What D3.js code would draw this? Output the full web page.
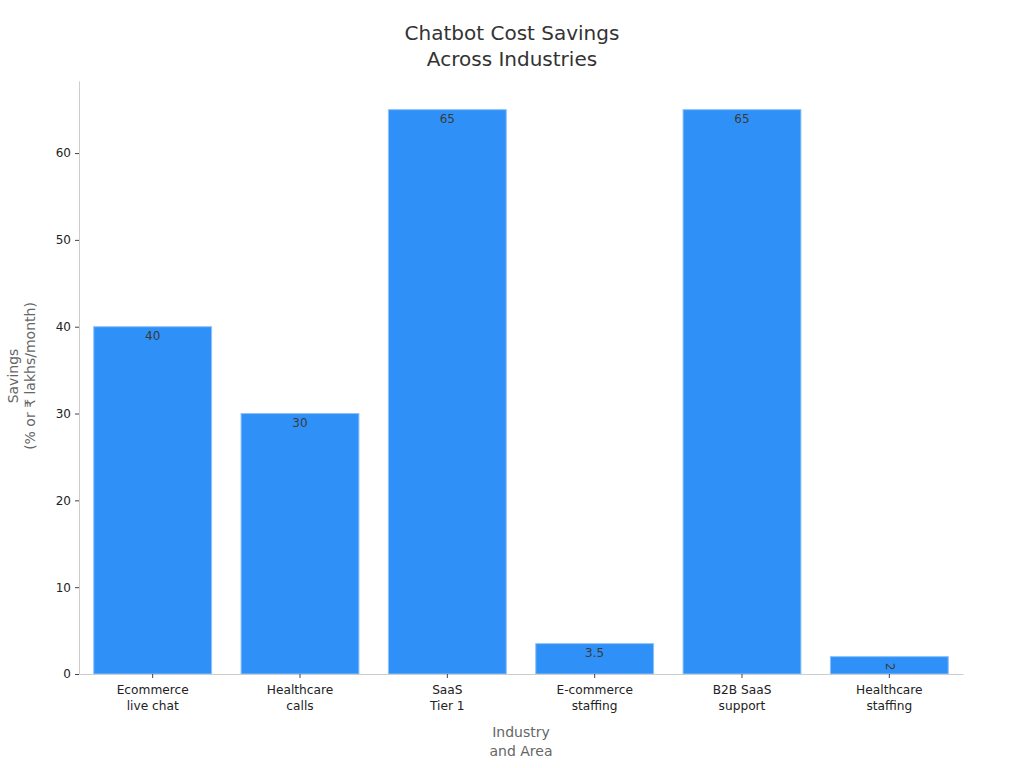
<!DOCTYPE html>
<html><head><meta charset="utf-8">
<script src="https://cdn.jsdelivr.net/npm/d3@7"></script>
<style>body{margin:0;background:#fff}text{font-family:"DejaVu Sans",sans-serif}</style>
</head><body><svg id="c" width="1024" height="768"></svg>
<script>
const categories = [["Ecommerce","live chat"],["Healthcare","calls"],["SaaS","Tier 1"],["E-commerce","staffing"],["B2B SaaS","support"],["Healthcare","staffing"]];
const values = [40, 30, 65, 3.5, 65, 2];
const labels = ["40","30","65","3.5","65","2"];
const yTicks = [0,10,20,30,40,50,60];

const svg = d3.select("#c");
const L = 79, R = 963, T = 81, B = 674;
const keys = categories.map(c => c.join(" "));
const x = d3.scaleBand().domain(keys).range([L, R]).paddingInner(0.2).paddingOuter(0.1);
const y = d3.scaleLinear().domain([0, 68.3]).range([B, T]);

svg.append("text").attr("x", 512).attr("y", 40).attr("text-anchor","middle").attr("font-size",20).attr("fill","#333").text("Chatbot Cost Savings");
svg.append("text").attr("x", 512).attr("y", 66).attr("text-anchor","middle").attr("font-size",20).attr("fill","#333").text("Across Industries");

svg.selectAll("rect.bar").data(values).enter().append("rect").attr("class","bar")
  .attr("x",(d,i)=>x(keys[i])).attr("width",x.bandwidth())
  .attr("y",d=>y(d)).attr("height",d=>B-y(d))
  .attr("fill","#2F91F7").attr("stroke","#8CC2FA").attr("stroke-width",1);

svg.selectAll("text.lbl").data(values).enter().append("text").attr("class","lbl")
  .attr("transform",(d,i)=>{const cx=x(keys[i])+x.bandwidth()/2, cy=y(d)+10; return i===5?`translate(${cx},${cy}) rotate(90)`:`translate(${cx},${cy})`;})
  .attr("text-anchor","middle").attr("dominant-baseline","middle")
  .attr("font-size",12).attr("fill","#3a3a3a").text((d,i)=>labels[i]);

const ya = svg.append("g").attr("transform",`translate(${L},0)`).call(d3.axisLeft(y).tickValues(yTicks).tickSize(4).tickPadding(4).tickSizeOuter(0));
ya.select(".domain").attr("stroke","#ccc");
ya.selectAll(".tick line").attr("stroke","#444");
ya.selectAll(".tick text").attr("font-size",12).attr("fill","#222").style("font-family","DejaVu Sans");

const xa = svg.append("g").attr("transform",`translate(0,${B})`).call(d3.axisBottom(x).tickSize(4).tickSizeOuter(0).tickFormat(()=>""));
xa.select(".domain").attr("stroke","#ccc");
xa.selectAll(".tick line").attr("stroke","#444");
xa.selectAll(".tick").each(function(d,i){
  const t = d3.select(this).append("text").attr("text-anchor","middle").attr("font-size",12.2).attr("fill","#222");
  categories[i].forEach((s,j)=>t.append("tspan").attr("x",0).attr("y",20+j*16).text(s));
});

const xt = svg.append("text").attr("text-anchor","middle").attr("font-size",14).attr("fill","#666");
xt.append("tspan").attr("x",521).attr("y",737).text("Industry");
xt.append("tspan").attr("x",521).attr("y",756).text("and Area");

const yt = svg.append("text").attr("transform","translate(0,376) rotate(-90)").attr("text-anchor","middle").attr("font-size",14).attr("fill","#666");
yt.append("tspan").attr("x",0).attr("y",18).text("Savings");
yt.append("tspan").attr("x",0).attr("y",35).text("(% or ₹ lakhs/month)");
</script></body></html>
